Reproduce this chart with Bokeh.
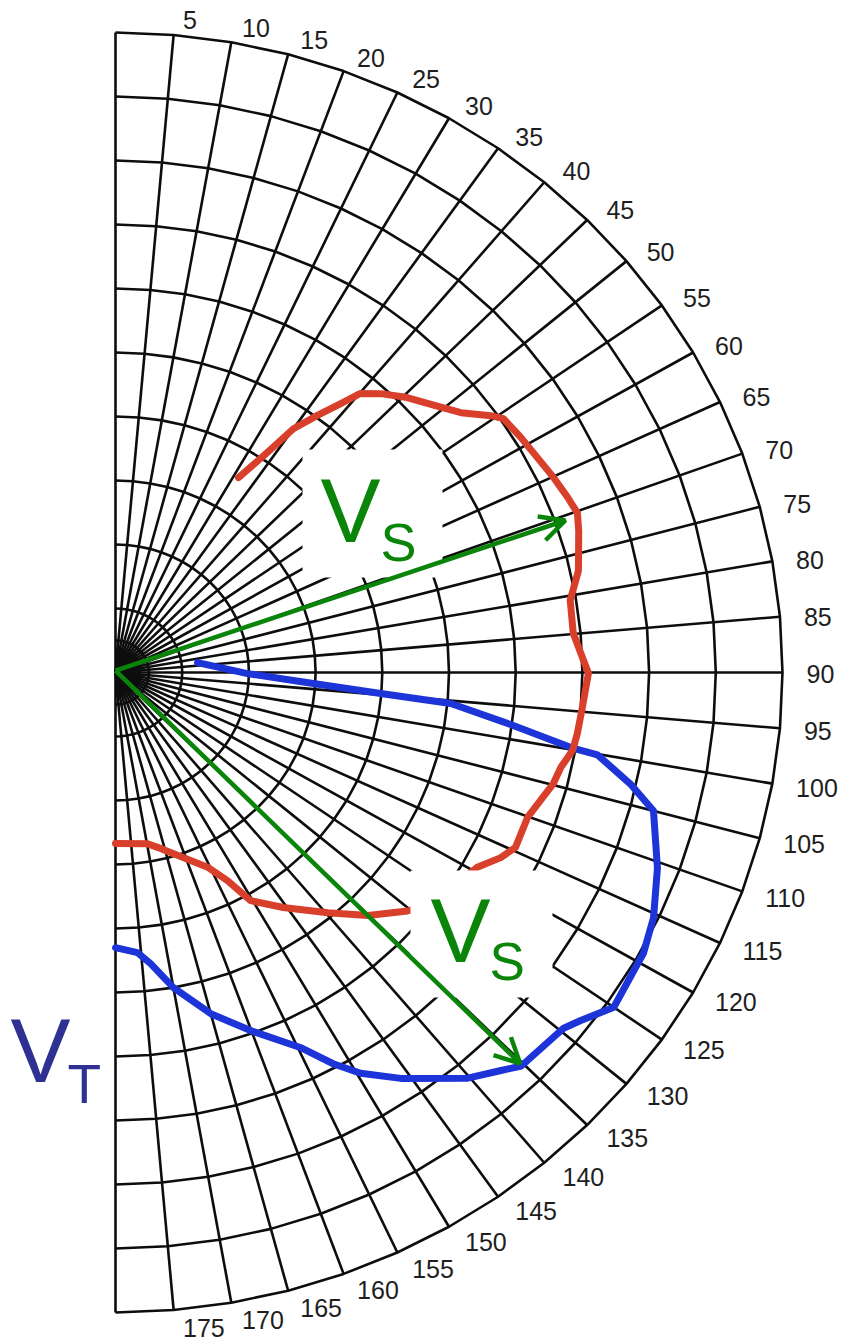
import numpy as np
from bokeh.plotting import figure
from bokeh.models import Range1d, Arrow, OpenHead, ColumnDataSource
from bokeh.core.properties import value
from bokeh.embed import file_html
from bokeh.resources import INLINE

# ---------------- data (polar: angle in degrees clockwise from top, radius in ring units) ----------------
red_angle = [31.2, 33.5, 35.0, 37.0, 38.8, 40.1, 42.4, 45.5, 48.8, 51.9, 54.5, 55.7, 58.8, 62.0,
             65.1, 68.0, 70.2, 72.3, 77.1, 80.6, 84.9, 90.1, 94.5, 97.8, 100.1, 102.5, 104.8,
             110.1, 114.5, 116.6, 119.3, 127.1, 130.4, 135.1, 139.7, 145.6, 150.4, 152.7, 155.6,
             166.2, 169.8, 180.0]
red_radius = [3.56, 4.12, 4.65, 5.03, 5.39, 5.70, 5.90, 6.13, 6.34, 6.58, 6.91, 7.04, 7.10, 7.16,
              7.24, 7.31, 7.36, 7.29, 7.12, 6.91, 6.89, 7.09, 7.02, 6.99, 6.96, 6.84, 6.79,
              6.58, 6.59, 6.46, 6.22, 5.98, 5.75, 5.36, 4.92, 4.45, 4.10, 3.66, 3.34,
              2.83, 2.72, 2.67]

blue_angle = [82.8, 90.5, 93.3, 94.7, 95.5, 97.9, 99.8, 100.1, 102.7, 105.0, 110.6, 115.4, 119.0,
              120.9, 125.0, 128.0, 129.6, 135.3, 137.1, 140.2, 146.0, 149.6, 151.9, 154.7, 160.1,
              165.0, 170.0, 173.4, 175.7, 180.0]
blue_radius = [1.24, 1.98, 2.97, 3.99, 5.05, 6.02, 6.97, 7.34, 7.91, 8.35, 8.68, 8.93, 9.05,
               9.06, 9.12, 8.84, 8.72, 8.65, 8.49, 8.25, 7.65, 7.26, 6.93, 6.48, 5.95,
               5.52, 5.00, 4.58, 4.39, 4.30]

arrow_angle = [70.6, 135.2]
arrow_length = [7.15, 8.61]

tick_angles = [5, 10, 15, 20, 25, 30, 35, 40, 45, 50, 55, 60, 65, 70, 75, 80, 85, 90,
               95, 100, 105, 110, 115, 120, 125, 130, 135, 140, 145, 150, 155, 160, 165, 170, 175]
tick_labels = [str(a) for a in tick_angles]

ring_radii = [0.25, 0.5, 1, 2, 3, 4, 5, 6, 7, 8, 9, 10]
spoke_step = 5
r_max = 10

# ---------------- styles ----------------
GREEN = "#0a850a"
RED = "#d8402c"
BLUE = "#1c34d8"
NAVY = "#2e3192"
FONT = "Liberation Sans"

W, H = 843, 1341
# reference-pixel geometry (layout): centre and pixels per ring unit
CX, CY, SX, SY = 115.0, 672.0, 66.7, 64.0


def px(X, Y):
    return (X - CX) / SX, (CY - Y) / SY


def polar(a, r):
    a = np.radians(np.asarray(a, dtype=float))
    r = np.asarray(r, dtype=float)
    return r * np.sin(a), r * np.cos(a)


x0, y1 = px(0, 0)
x1, y0 = px(W, H)

p = figure(width=W, height=H, x_range=Range1d(x0, x1), y_range=Range1d(y0, y1),
           output_backend="svg", toolbar_location=None, min_border=0)
p.axis.visible = False
p.grid.visible = False
p.outline_line_color = None
p.background_fill_color = "white"
p.border_fill_color = "white"

# grid: spokes
sp = np.arange(0, 181, spoke_step)
sx, sy = polar(sp, np.full(len(sp), r_max))
p.multi_line(xs=[[0, a] for a in sx], ys=[[0, b] for b in sy], line_color="#0d0d0d", line_width=2.6)
# grid: polygonal rings
rx, ry = [], []
for r in ring_radii:
    gx, gy = polar(sp, np.full(len(sp), r))
    rx.append(list(gx))
    ry.append(list(gy))
p.multi_line(xs=rx, ys=ry, line_color="#0d0d0d", line_width=2.6)
# dense hub where the spokes merge
hx, hy = polar(sp, np.full(len(sp), 0.38))
p.patch(list(hx) + [0], list(hy) + [0], fill_color="#0d0d0d", line_color=None)

# tick labels
ta = np.radians(np.array(tick_angles, dtype=float))
tx, ty = polar(tick_angles, np.full(len(tick_angles), r_max))
tsrc = ColumnDataSource(dict(x=tx, y=ty, t=tick_labels,
                             xo=8 + 16 * np.sin(ta), yo=-16 * np.cos(ta) + 1.5))
p.text(x="x", y="y", text="t", x_offset="xo", y_offset="yo", source=tsrc,
       text_font=value(FONT), text_font_size="25px", text_color="#1e1e1e",
       text_align="left", text_baseline="middle")

# curves
bx, by = polar(blue_angle, blue_radius)
p.line(bx, by, line_color=BLUE, line_width=7, line_join="round", line_cap="round")
rx_, ry_ = polar(red_angle, red_radius)
p.line(rx_, ry_, line_color=RED, line_width=7, line_join="round", line_cap="round")

# white label boxes
for (X0, Y0, X1, Y1) in [(302, 449, 442, 577), (410, 870, 552, 997)]:
    a0, b0 = px(X0, Y1)
    a1, b1 = px(X1, Y0)
    p.quad(left=a0, right=a1, bottom=b0, top=b1, fill_color="white", line_color=None)


def label(X, Y, txt, size, color):
    # (X, Y) = left edge / baseline in reference pixels; correct renderer baseline offset
    a, b = px(X, Y - 0.38 * size)
    p.text(x=[a], y=[b], text=[txt], text_font=value(FONT), text_font_size=f"{size}px",
           text_color=color, text_align="left", text_baseline="alphabetic")


label(320, 545, "V", 90, GREEN)
label(380, 562, "S", 54, GREEN)
label(430, 965, "V", 90, GREEN)
label(489, 981, "S", 53, GREEN)
label(10, 1085, "V", 90, NAVY)
label(67, 1104, "T", 55, NAVY)

# arrows
ax, ay = polar(arrow_angle, arrow_length)
asrc = ColumnDataSource(dict(x0=[0.0] * len(ax), y0=[0.03] * len(ax), x1=ax, y1=ay))
p.add_layout(Arrow(end=OpenHead(size=25, line_color=GREEN, line_width=4.5),
                   x_start="x0", y_start="y0", x_end="x1", y_end="y1", source=asrc,
                   line_color=GREEN, line_width=4.5))

open("out.html", "w").write(file_html(p, INLINE))
